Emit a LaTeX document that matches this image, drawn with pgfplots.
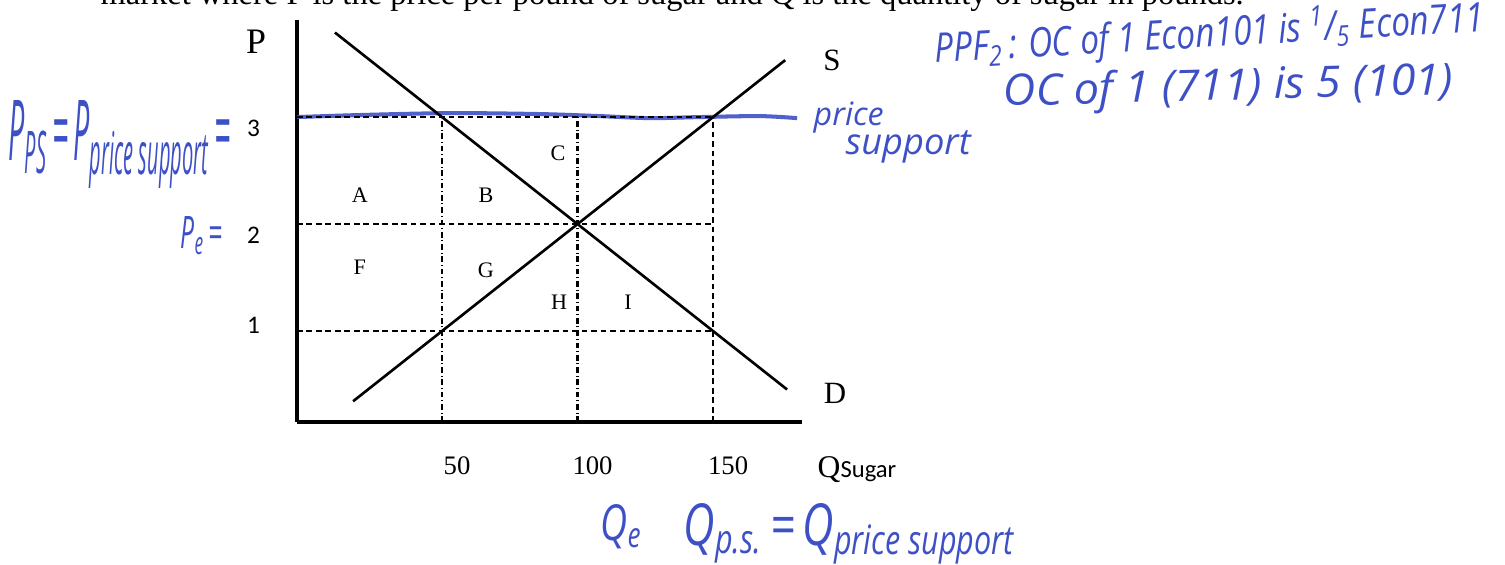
\documentclass[border=0pt]{standalone}
\usepackage{pgfplots}
\pgfplotsset{compat=1.18}
\usepackage{fontspec}
\setmainfont{Liberation Serif}
\newfontfamily\calib{Carlito}
\newfontfamily\hand{Open Sans}
\definecolor{ink}{RGB}{62,80,198}

\begin{document}
\begin{tikzpicture}[x=0.1mm,y=0.1mm]
\useasboundingbox (0,0) rectangle (1505,564);
\clip (0,0) rectangle (1505,564);

% line of the question text above the figure
\node[anchor=base west, inner sep=0] at (100,560)
  {\resizebox{114.3mm}{!}{market where P is the price per pound of sugar and Q is the quantity of sugar in pounds.}};

\begin{axis}[
  at={(29.7mm,14.2mm)}, anchor=south west,
  scale only axis, width=50.5mm, height=40.2mm,
  xmin=-3.5, xmax=182.8, ymin=0.15, ymax=3.907,
  axis x line=bottom, axis y line=left,
  axis line style={-, line width=0.9pt},
  tick style={draw=none},
  xtick={50,100,150}, xticklabels={50,100,150},
  ytick={1,2,3}, yticklabels={\raisebox{1.7mm}{1},2,3},
  xticklabel style={anchor=center, yshift=-3.6mm, xshift=1.5mm,
    font=\fontsize{7.6}{9}\selectfont},
  yticklabel style={anchor=base, xshift=-3.6mm, yshift=-1.95mm,
    font=\calib\fontsize{7.2}{9}\selectfont},
]
% price support drawn in by hand
\addplot[ink, line width=1.15pt, smooth, opacity=0.9] coordinates {
  (-3.5,3.0) (19.7,3.019) (53,3.037) (86.2,3.028) (108.3,3.009)
  (126.8,2.99) (145.2,3.0) (167.3,3.009) (181,2.99)};

% guide lines at P = 1, 2, 3
\addplot[black, line width=0.65pt, dash pattern=on 1.6pt off 1.1pt] coordinates {(-3.5,3) (150,3)};
\addplot[black, line width=0.65pt, dash pattern=on 1.6pt off 1.1pt] coordinates {(-3.5,2) (150,2)};
\addplot[black, line width=0.65pt, dash pattern=on 1.6pt off 1.1pt] coordinates {(-3.5,1) (150,1)};
% guide lines at Q = 50, 100, 150
\addplot[black, line width=0.6pt, dash pattern=on 1.6pt off 0.8pt on 0.3pt off 0.8pt] coordinates {(50,0.15) (50,3)};
\addplot[black, line width=0.6pt, dash pattern=on 1.6pt off 0.8pt on 0.3pt off 0.8pt] coordinates {(100,0.15) (100,3)};
\addplot[black, line width=0.6pt, dash pattern=on 1.6pt off 1.1pt] coordinates {(150,0.15) (150,3)};

% demand P = 4 - Q/50 and supply P = Q/50
\addplot[black, line width=0.75pt] coordinates {(10.5,3.79) (177.3,0.454)};
\addplot[black, line width=0.75pt] coordinates {(17.2,0.344) (176.6,3.532)};

% areas
\begin{scope}[every node/.style={font=\fontsize{6.3}{7}\selectfont}]
\node at (axis cs:19.7,2.27) {A};
\node at (axis cs:66.2,2.27) {B};
\node at (axis cs:92.8,2.66) {C};
\node at (axis cs:19.7,1.60) {F};
\node at (axis cs:66.2,1.57) {G};
\node at (axis cs:93.2,1.27) {H};
\node at (axis cs:118.6,1.27) {I};
\end{scope}
\end{axis}

% axis and curve labels
\node[font=\fontsize{10.2}{12}\selectfont] at (256,522) {P};
\node[font=\fontsize{8.8}{10}\selectfont] at (832,504) {S};
\node[font=\fontsize{8.8}{10}\selectfont] at (835,171) {D};
\node[anchor=base west, inner sep=0] at (817,87)
  {\fontsize{9}{10}\selectfont Q{\calib\fontsize{7}{8}\selectfont Sugar}};

% handwritten notes
\begin{scope}[ink, every node/.style={inner sep=0}]
\node[anchor=base west] at (8,404)
  {\resizebox{22.2mm}{6mm}{\hand\itshape P\textsubscript{PS}\,=\,P\textsubscript{price support}\,=}};
\node[anchor=base west] at (180,316)
  {\resizebox{4.2mm}{3.2mm}{\hand\itshape P\textsubscript{e}\,=}};
\node[anchor=base west] at (813,439)
  {\resizebox{7mm}{!}{\hand\itshape price}};
\node[anchor=base west] at (845,410)
  {\resizebox{12.5mm}{!}{\hand\itshape support}};
\node[anchor=base west, rotate=3.3] at (935,501)
  {\resizebox{55mm}{3.5mm}{\hand\itshape PPF\textsubscript{2}\,: OC of 1 Econ101 is \textsuperscript{1}/\textsubscript{5} Econ711}};
\node[anchor=base west, rotate=1.5] at (1003,458)
  {\resizebox{45mm}{3.3mm}{\hand\itshape OC of 1 (711) is 5 (101)}};
\node[anchor=base west] at (600,24)
  {\resizebox{4.2mm}{3.6mm}{\hand\itshape Q\textsubscript{e}}};
\node[anchor=base west] at (683,19)
  {\resizebox{33.2mm}{4.2mm}{\hand\itshape Q\textsubscript{p.s.}\,=\,Q\textsubscript{price support}}};
\end{scope}
\end{tikzpicture}
\end{document}
